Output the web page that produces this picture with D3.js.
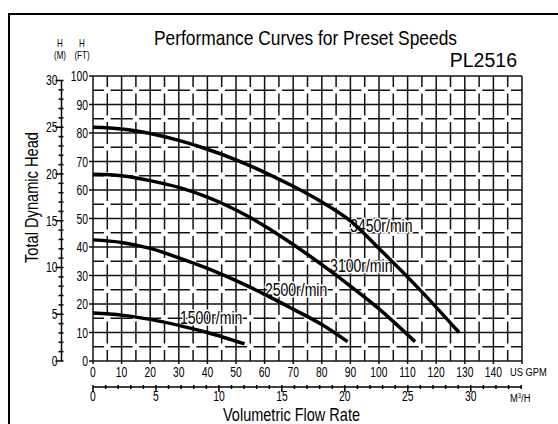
<!DOCTYPE html>
<html>
<head>
<meta charset="utf-8">
<script src="https://cdn.jsdelivr.net/npm/d3@7"></script>
<style>
  body { margin: 0; background: #fff; }
  svg { display: block; }
  text { font-family: "Liberation Sans", Arial, sans-serif; fill: #000; }
</style>
</head>
<body>
<div id="chart"></div>
<script>
// curves: [US GPM, head ft]
const rpm3450 = [[0,82],[10,81.4],[20,79.8],[30,77.4],[40,74.3],[50,70.6],[60,66.2],[70,61.3],[80,55.8],[90,49.2],[100,39.5],[114,25.3],[128,10]];
const rpm3100 = [[0,65.5],[10,65],[20,63.3],[30,60.9],[40,57.5],[50,53],[60,47.4],[70,40.9],[80,33.8],[90,26.3],[100,18.3],[112.6,6.8]];
const rpm2500 = [[0,42.5],[10,41.6],[20,39.5],[30,36.2],[40,32.5],[50,28.2],[60,23.4],[70,18.2],[80,12.8],[89,6.8]];
const rpm1500 = [[0,16.8],[10,16.1],[20,14.6],[30,12.5],[40,10],[53,6]];
const curveLabels = ["3450r/min", "3100r/min", "2500r/min", "1500r/min"];
// where each label sits: [GPM, ft]
const labelAt = [[89.9,45.3], [82.9,31.2], [60.1,22.8], [30.4,13.0]];

const gpmTicks = d3.range(0, 141, 10);
const ftTicks = d3.range(0, 101, 10);
const mTicks = d3.range(0, 31, 5);
const m3hTicks = d3.range(0, 31, 5);

const title = "Performance Curves for Preset Speeds";
const model = "PL2516";

const width = 558, height = 424;
const margin = {top: 76, right: 36, bottom: 63, left: 93};
const FT_PER_M = 3.28084, GPM_PER_M3H = 4.40287;

const svg = d3.select("#chart").append("svg")
    .attr("width", width).attr("height", height);

let x = d3.scaleLinear().domain([0, 150]).range([margin.left, width - margin.right]);
let y = d3.scaleLinear().domain([0, 100]).range([height - margin.bottom, margin.top]);
let yM = d3.scaleLinear().domain([0, 100 / FT_PER_M]).range(y.range());
let xM = d3.scaleLinear().domain([0, 150 / GPM_PER_M3H]).range(x.range());

// narrow text (Arial Narrow look-alike)
function ntext(g, tx, ty, str, size, sx, anchor) {
  return g.append("text")
    .attr("transform", `translate(${tx},${ty}) scale(${sx},1)`)
    .attr("text-anchor", anchor || "start")
    .attr("font-size", size).text(str);
}

// frame
svg.append("path")
    .attr("d", `M9,${height + 5}V14H${width}`)
    .attr("fill", "none").attr("stroke", "#000").attr("stroke-width", 2);

// grid
let cell = x(10) - x(0), cellY = y(0) - y(10);
let grid = svg.append("g").attr("stroke", "#111").attr("stroke-width", 1.5);
d3.range(5, 150, 10).forEach(v => grid.append("line")
    .attr("x1", x(v)).attr("x2", x(v)).attr("y1", y(100)).attr("y2", y(0))
    .attr("stroke-dasharray", `${cellY - 6.5},6.5`).attr("stroke-dashoffset", (cellY - 6.5) / 2));
d3.range(5, 100, 10).forEach(v => grid.append("line")
    .attr("x1", x(0)).attr("x2", x(150)).attr("y1", y(v)).attr("y2", y(v))
    .attr("stroke-dasharray", `${cell - 6.5},6.5`).attr("stroke-dashoffset", (cell - 6.5) / 2));
d3.range(0, 151, 10).forEach(v => grid.append("line")
    .attr("x1", x(v)).attr("x2", x(v)).attr("y1", y(100)).attr("y2", y(0) + 3));
d3.range(0, 101, 10).forEach(v => grid.append("line")
    .attr("x1", x(0) - 4).attr("x2", x(150)).attr("y1", y(v)).attr("y2", y(v)));

// ft labels
let labels = svg.append("g");
ftTicks.forEach(d => ntext(labels, x(0) - 5, y(d) + 5, d, 14, 0.74, "end"));

// metres axis
let mx = 61.5;
let mAxis = svg.append("g").attr("stroke", "#000").attr("stroke-width", 1.5);
mAxis.append("line").attr("x1", mx).attr("x2", mx).attr("y1", yM(30)).attr("y2", yM(0));
d3.range(0, 31, 1).forEach(v => mAxis.append("line")
    .attr("x1", v % 5 === 0 ? mx - 6 : mx - 3).attr("x2", mx + 2)
    .attr("y1", yM(v)).attr("y2", yM(v)));
mTicks.forEach(d => ntext(labels, mx - 4, yM(d) + 5, d, 14, 0.74, "end"));

// unit headers
[["H", 60, 47], ["(M)", 60, 59], ["H", 82, 47], ["(FT)", 82, 59]].forEach(t =>
  ntext(labels, t[1], t[2], t[0], 10, 0.8, "middle"));

// GPM labels
gpmTicks.forEach(d => ntext(labels, x(d), y(0) + 16, d, 14, 0.74, "middle"));
ntext(labels, 510, y(0) + 15, "US GPM", 11, 0.85);

// m3/h axis
let my = 387;
let xAxisM = svg.append("g").attr("stroke", "#000").attr("stroke-width", 1.5);
xAxisM.append("line").attr("x1", x(0)).attr("x2", x(150)).attr("y1", my).attr("y2", my);
d3.range(0, 35, 1).forEach(v => xAxisM.append("line")
    .attr("x1", xM(v)).attr("x2", xM(v))
    .attr("y1", my - 2).attr("y2", v % 5 === 0 ? my + 5 : my + 2));
m3hTicks.forEach(d => ntext(labels, xM(d), my + 14, d, 14, 0.74, "middle"));
ntext(labels, 510, my + 15, "", 11, 0.85)
    .html("M<tspan font-size='7' dy='-4'>3</tspan><tspan dy='4'>/H</tspan>");

// titles
svg.append("text").attr("x", 154).attr("y", 45)
    .attr("textLength", 303).attr("lengthAdjust", "spacingAndGlyphs")
    .attr("font-size", 21).text(title);
svg.append("text").attr("x", 517).attr("y", 67).attr("text-anchor", "end")
    .attr("font-size", 19.5).text(model);
svg.append("text").attr("x", 223).attr("y", 421)
    .attr("textLength", 137).attr("lengthAdjust", "spacingAndGlyphs")
    .attr("font-size", 19).text("Volumetric Flow Rate");
svg.append("text")
    .attr("transform", "translate(38,263) rotate(-90)")
    .attr("textLength", 131).attr("lengthAdjust", "spacingAndGlyphs")
    .attr("font-size", 19).text("Total Dynamic Head");

// curve labels with white halo
curveLabels.forEach((d, i) =>
  ntext(labels, x(labelAt[i][0]), y(labelAt[i][1]), d, 18, 0.78)
    .attr("stroke", "#fff").attr("stroke-width", 3).attr("paint-order", "stroke"));

// curves
let line = d3.line().x(d => x(d[0])).y(d => y(d[1])).curve(d3.curveCatmullRom);
svg.append("g").selectAll("path").data([rpm3450, rpm3100, rpm2500, rpm1500]).enter()
  .append("path")
    .attr("d", line)
    .attr("fill", "none").attr("stroke", "#000").attr("stroke-width", 3.5);
</script>
</body>
</html>
